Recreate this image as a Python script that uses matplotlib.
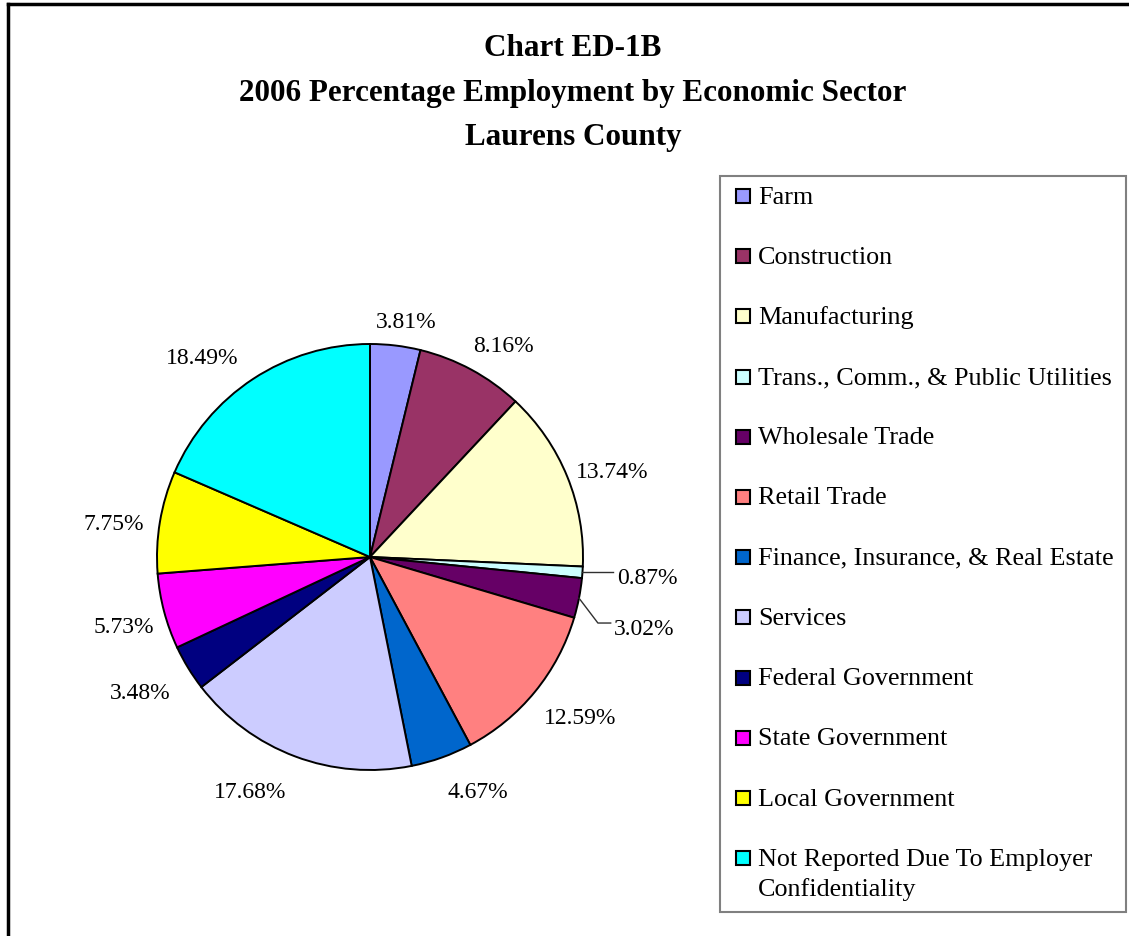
import numpy as np
import matplotlib.pyplot as plt
from matplotlib.patches import Rectangle
from matplotlib.lines import Line2D

plt.rcParams["font.family"] = ["Liberation Serif", "DejaVu Serif"]

sectors = [
    "Farm",
    "Construction",
    "Manufacturing",
    "Trans., Comm., & Public Utilities",
    "Wholesale Trade",
    "Retail Trade",
    "Finance, Insurance, & Real Estate",
    "Services",
    "Federal Government",
    "State Government",
    "Local Government",
    "Not Reported Due To Employer\nConfidentiality",
]
shares = [3.81, 8.16, 13.74, 0.87, 3.02, 12.59, 4.67, 17.68, 3.48, 5.73, 7.75, 18.49]
colors = [
    "#9999FF", "#993366", "#FFFFCC", "#CCFFFF", "#660066", "#FF8080",
    "#0066CC", "#CCCCFF", "#000080", "#FF00FF", "#FFFF00", "#00FFFF",
]

# small pixel nudges (dx right, dy down) for the outside labels
nudge_px = {0: (7, 7), 1: (13, 12), 2: (-5, 16), 5: (6, -5), 6: (24, 1),
            7: (-31, 0), 8: (-8, 1), 9: (6, 4), 10: (1, 10), 11: (-26, 17)}

W, H = 1129, 936
fig = plt.figure(figsize=(W / 100, H / 100), dpi=100)

# pie axes: centre (370, 557) px, radius 213 px
R = 213.0
half = 300.0
ax = fig.add_axes([(370 - half) / W, (H - 557 - half) / H, 2 * half / W, 2 * half / H])

wedges, _ = ax.pie(
    shares,
    colors=colors,
    startangle=90,
    counterclock=False,
    radius=1.0,
    wedgeprops=dict(edgecolor="black", linewidth=1.4),
)
ax.set_xlim(-half / R, half / R)
ax.set_ylim(-half / R, half / R)
ax.set_aspect("equal")
ax.axis("off")

label_size = 17
gap = 16 / R
h_half = 11 / R
for i, (wd, v) in enumerate(zip(wedges, shares)):
    mid = np.deg2rad((wd.theta1 + wd.theta2) / 2)
    c, s = np.cos(mid), np.sin(mid)
    txt = f"{v:.2f}%"
    if v < 1.0:
        # thin slice: horizontal leader line
        ax.plot([c, 1.14], [s, s], color="#303030", lw=1)
        ax.text(1.16, s - 0.03, txt, ha="left", va="center", fontsize=label_size)
        continue
    if sectors[i] == "Wholesale Trade":
        kx, ky = 1.07, -0.31
        ax.plot([c, kx, kx + 0.06], [s, ky, ky], color="#303030", lw=1)
        ax.text(kx + 0.075, ky - 0.032, txt, ha="left", va="center", fontsize=label_size)
        continue
    w_half = (6 * len(txt)) / R
    d = 1.0 + gap + abs(c) * w_half + abs(s) * h_half
    dx, dy = nudge_px.get(i, (0, 0))
    ax.text(d * c + dx / R, d * s - dy / R, txt, ha="center", va="center",
            fontsize=label_size)

# title
title_lines = ["Chart ED-1B", "2006 Percentage Employment by Economic Sector", "Laurens County"]
for k, line in enumerate(title_lines):
    fig.text(573 / W, 1 - (49 + 44 * k) / H, line, ha="center", va="center",
             fontsize=22.4, fontweight="bold")

# legend box
lx0, ly0, lx1, ly1 = 720, 176, 1126, 912
fig.add_artist(Rectangle((lx0 / W, 1 - ly1 / H), (lx1 - lx0) / W, (ly1 - ly0) / H,
                         transform=fig.transFigure, facecolor="white",
                         edgecolor="#808080", linewidth=1.5))
for i, (name, col) in enumerate(zip(sectors, colors)):
    yc = 196 + 60.2 * i
    fig.add_artist(Rectangle((736 / W, 1 - (yc + 7) / H), 14 / W, 14 / H,
                             transform=fig.transFigure, facecolor=col,
                             edgecolor="black", linewidth=1.5))
    for j, part in enumerate(name.split("\n")):
        fig.text(758 / W, 1 - (yc + 7.5 + 30 * j) / H, part, ha="left", va="baseline",
                 fontsize=18.8)

# outer frame (top and left edges)
fig.add_artist(Line2D([7.5 / W, 1.0], [1 - 4 / H, 1 - 4 / H], transform=fig.transFigure,
                      color="black", lw=2.5))
fig.add_artist(Line2D([7.5 / W, 7.5 / W], [0, 1 - 4 / H], transform=fig.transFigure,
                      color="black", lw=2.5))

fig.savefig("out.png", dpi=100, facecolor="white")
